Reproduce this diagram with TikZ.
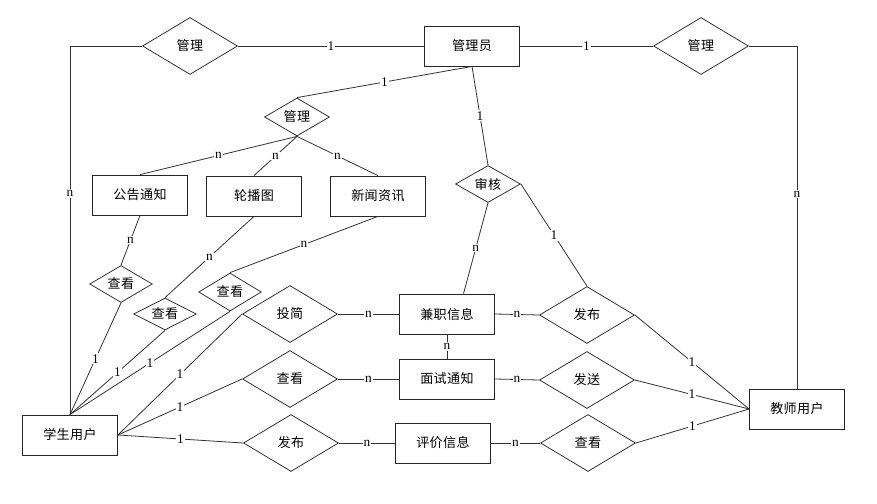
\documentclass[tikz,border=0pt]{standalone}
\usepackage{fontspec}
\setmainfont{Liberation Serif}
\newfontfamily\cjk[LetterSpace=3]{Noto Sans CJK SC}
\usetikzlibrary{calc,shapes.geometric}
\tikzset{
	entity/.style={draw=black!85, line width=0.6pt, rectangle, minimum width=71.25pt, minimum height=30pt, inner sep=0pt, font=\cjk\fontsize{9.8}{10}\selectfont},
	relbig/.style={draw=black!80, line width=0.6pt, diamond, aspect=1.7, minimum width=71.25pt, minimum height=42.75pt, inner sep=0pt, font=\cjk\fontsize{9.8}{10}\selectfont},
	relsm/.style={draw=black!80, line width=0.6pt, diamond, aspect=1.7, minimum width=47pt, minimum height=27.75pt, inner sep=0pt, font=\cjk\fontsize{9.8}{10}\selectfont},
	conn/.style={draw=black!80, line width=0.6pt},
	card/.style={fill=white, inner sep=0.8pt, font=\fontsize{10}{10}\selectfont}
}
\begin{document}
\begin{tikzpicture}[x=0.75pt, y=-0.75pt]
			%%%%% START %%%%%
			
			\useasboundingbox[fill=white] (0, 0) rectangle (877, 503);
			
			% entities
			\node[entity] (admin) at (472, 46) {管理员};
			\node[entity] (notice) at (140, 195) {公告通知};
			\node[entity] (banner) at (254, 196) {轮播图};
			\node[entity] (news) at (378, 196) {新闻资讯};
			\node[entity] (student) at (70, 435) {学生用户};
			\node[entity] (job) at (447, 314) {兼职信息};
			\node[entity] (interview) at (447, 379) {面试通知};
			\node[entity] (review) at (443, 443) {评价信息};
			\node[entity] (teacher) at (797, 409) {教师用户};
			
			% relations
			\node[relbig] (mgrL) at (190, 46) {管理};
			\node[relbig] (mgrR) at (701, 46) {管理};
			\node[relsm, minimum width=48.75pt, minimum height=28.5pt] (mgrM) at (297, 117) {管理};
			\node[relsm, minimum width=48.75pt] (audit) at (488, 184) {审核};
			\node[relsm] (viewA) at (121, 284) {查看};
			\node[relsm, minimum height=24pt] (viewB) at (165, 314) {查看};
			\node[relsm, minimum height=28.5pt] (viewC) at (230, 292) {查看};
			\node[relbig] (apply) at (290, 314) {投简};
			\node[relbig] (viewI) at (290, 379) {查看};
			\node[relbig] (postS) at (291, 443) {发布};
			\node[relbig] (postT) at (587, 315) {发布};
			\node[relbig] (send) at (587, 380) {发送};
			\node[relbig] (viewT) at (588, 443) {查看};
			
			% admin links
			\draw[conn] (student.north) |- (mgrL.west) node[card, pos=0.3] {n};
			\draw[conn] (mgrL.east) -- (admin.west) node[card, midway] {1};
			\draw[conn] (admin.east) -- (mgrR.west) node[card, midway] {1};
			\draw[conn] (mgrR.east) -| (teacher.north) node[card, pos=0.716] {n};
			\draw[conn] (admin.south) -- (mgrM.north) node[card, midway] {1};
			\draw[conn] (mgrM.south) -- (notice.north) node[card, midway] {n};
			\draw[conn] (mgrM.south) -- (banner.north) node[card, midway] {n};
			\draw[conn] (mgrM.south) -- (news.north) node[card, midway] {n};
			\draw[conn] (admin.south) -- (audit.north) node[card, midway] {1};
			\draw[conn] (audit.south) -- (job.51) node[card, midway] {n};
			\draw[conn] (audit.east) -- (postT.north) node[card, midway] {1};
			
			% student links
			\draw[conn] (notice.south) -- (viewA.north) node[card, midway] {n};
			\draw[conn] (viewA.south) -- (student.north) node[card, midway] {1};
			\draw[conn] (banner.south) -- (viewB.north) node[card, midway] {n};
			\draw[conn] (viewB.south) -- (student.north) node[card, midway] {1};
			\draw[conn] (news.south) -- (viewC.north) node[card, midway] {n};
			\draw[conn] (viewC.south) -- (student.north) node[card, midway] {1};
			\draw[conn] (student.east) -- (apply.west) node[card, midway] {1};
			\draw[conn] (student.east) -- (viewI.west) node[card, midway] {1};
			\draw[conn] (student.east) -- (postS.west) node[card, midway] {1};
			\draw[conn] (apply.east) -- (job.west) node[card, midway] {n};
			\draw[conn] (viewI.east) -- (interview.west) node[card, midway] {n};
			\draw[conn] (postS.east) -- (review.west) node[card, midway] {n};
			\draw[conn] (job.south) -- (interview.north) node[card, midway] {n};
			
			% teacher links
			\draw[conn] (job.east) -- (postT.west) node[card, midway] {n};
			\draw[conn] (interview.east) -- (send.west) node[card, midway] {n};
			\draw[conn] (review.east) -- (viewT.west) node[card, midway] {n};
			\draw[conn] (postT.east) -- (teacher.west) node[card, midway] {1};
			\draw[conn] (send.east) -- (teacher.west) node[card, midway] {1};
			\draw[conn] (viewT.east) -- (teacher.west) node[card, midway] {1};
			
			%%%%% END %%%%%
\end{tikzpicture}
\end{document}
